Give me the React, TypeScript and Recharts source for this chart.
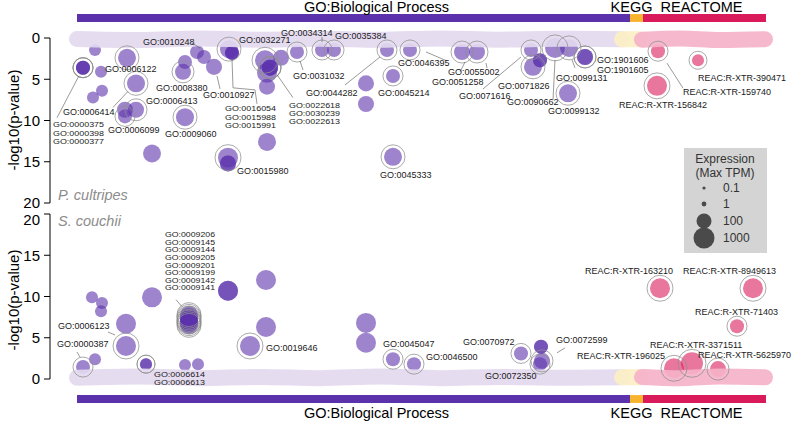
import React from "react";
import { ComposedChart, Scatter, Line, XAxis, YAxis, ReferenceArea } from "recharts";

const SOURCES = ["GO:Biological Process", "KEGG", "REACTOME"];
const SOURCE_START = [7, 560, 573];
const SOURCE_END = [560, 573, 696];
const SOURCE_COLORS = ["#5b32ab", "#f8b42c", "#d91b5b"];
const BAND_COLORS = ["#e3d9ef", "#fcefc6", "#f5b2c8"];
const TITLE_SHIFT = [23, -5, -3];

const Y_TICKS = [0, 5, 10, 15, 20];
const LEGEND_TPM = [0.1, 1, 100, 1000];

// [term, position, -log10(p), max TPM, highlighted]
const cultripesGO = [
  ["", 25, 1.45, 31, 0],
  ["GO:0000375", 13, 3.6, 68, 1],
  ["GO:0000398", 13, 3.6, 68, 1],
  ["GO:0000377", 13, 3.6, 68, 1],
  ["", 31, 4.1, 31, 0],
  ["", 23, 7.2, 31, 0],
  ["", 32, 6.4, 31, 0],
  ["GO:0006122", 57, 2.4, 315, 1],
  ["GO:0006414", 66, 5.5, 315, 1],
  ["", 55, 8.7, 146, 0],
  ["GO:0006413", 66, 8.7, 146, 1],
  ["GO:0006099", 55, 9.5, 68, 1],
  ["", 82, 14.0, 315, 0],
  ["", 115, 2.9, 68, 0],
  ["GO:0008380", 113, 4.1, 146, 1],
  ["GO:0010248", 127, 1.7, 68, 0],
  ["", 134, 2.3, 68, 0],
  ["GO:0010927", 144, 3.5, 146, 0],
  ["GO:0009060", 115, 9.6, 315, 1],
  ["GO:0032271", 159, 1.35, 315, 1],
  ["GO:0016054", 162, 1.8, 68, 0],
  ["GO:0015988", 162, 1.8, 68, 0],
  ["GO:0015991", 162, 1.8, 68, 0],
  ["", 197, 5.9, 146, 0],
  ["", 197, 12.6, 315, 0],
  ["GO:0015980", 158, 14.5, 680, 1],
  ["", 158, 15.2, 146, 0],
  ["", 158, 15.2, 146, 0],
  ["", 195, 2.7, 680, 1],
  ["", 197, 4.2, 680, 0],
  ["GO:0022618", 200, 3.6, 146, 1],
  ["GO:0030239", 200, 3.6, 146, 1],
  ["GO:0022613", 200, 3.6, 146, 1],
  ["", 211, 2.4, 146, 0],
  ["GO:0031032", 227, 1.7, 68, 1],
  ["GO:0034314", 252, 1.45, 68, 1],
  ["GO:0035384", 264, 1.45, 68, 1],
  ["GO:0044282", 317, 1.45, 68, 1],
  ["", 296, 5.5, 146, 0],
  ["", 296, 8.0, 146, 0],
  ["GO:0045214", 323, 4.6, 68, 1],
  ["GO:0045333", 323, 14.4, 315, 1],
  ["GO:0046395", 340, 1.45, 68, 1],
  ["GO:0051258", 392, 1.7, 146, 1],
  ["GO:0055002", 407, 1.7, 146, 1],
  ["GO:0071616", 461, 1.45, 68, 1],
  ["GO:0071826", 463, 3.5, 315, 1],
  ["", 470, 2.7, 68, 0],
  ["", 470, 2.7, 68, 0],
  ["GO:0090662", 485, 1.2, 680, 1],
  ["GO:0099131", 499, 1.2, 315, 1],
  ["GO:1901606", 515, 2.3, 146, 1],
  ["GO:1901605", 515, 2.3, 146, 1],
  ["GO:0099132", 498, 6.7, 315, 1],
];

const cultripesREAC = [
  ["REAC:R-XTR-159740", 588, 1.6, 68, 1],
  ["REAC:R-XTR-390471", 628, 2.7, 31, 1],
  ["REAC:R-XTR-156842", 587, 5.8, 680, 1],
];

const couchiiGO = [
  ["GO:0000387", 13, 1.45, 68, 1],
  ["", 25, 2.4, 31, 0],
  ["", 22, 9.9, 31, 0],
  ["", 32, 9.2, 31, 0],
  ["", 31, 8.2, 31, 0],
  ["", 56, 6.7, 680, 0],
  ["GO:0006123", 56, 4.0, 680, 1],
  ["", 82, 9.9, 680, 0],
  ["GO:0006614", 76, 1.8, 31, 1],
  ["GO:0006613", 76, 1.8, 31, 1],
  ["", 115, 1.7, 31, 0],
  ["", 128, 1.8, 31, 0],
  ["GO:0009206", 119, 7.8, 315, 1],
  ["GO:0009145", 119, 7.6, 315, 1],
  ["GO:0009144", 119, 7.4, 315, 1],
  ["GO:0009205", 119, 7.2, 315, 1],
  ["GO:0009201", 119, 7.0, 315, 1],
  ["GO:0009199", 119, 6.9, 315, 1],
  ["GO:0009142", 119, 6.7, 315, 1],
  ["GO:0009141", 119, 6.5, 315, 1],
  ["", 158, 10.7, 680, 0],
  ["", 158, 10.7, 680, 0],
  ["", 196, 12.0, 680, 0],
  ["", 196, 6.3, 680, 0],
  ["GO:0019646", 180, 4.0, 680, 1],
  ["", 296, 6.8, 680, 0],
  ["", 296, 4.4, 680, 0],
  ["GO:0045047", 323, 2.4, 68, 1],
  ["GO:0046500", 344, 1.8, 68, 1],
  ["GO:0070972", 451, 3.1, 68, 1],
  ["", 471, 3.9, 68, 0],
  ["", 471, 3.9, 68, 0],
  ["GO:0072599", 472, 2.2, 146, 1],
  ["GO:0072350", 470, 1.8, 68, 1],
];

const couchiiREAC = [
  ["REAC:R-XTR-163210", 590, 11.0, 680, 1],
  ["REAC:R-XTR-8949613", 683, 11.0, 680, 1],
  ["REAC:R-XTR-71403", 667, 6.4, 68, 1],
  ["REAC:R-XTR-3371511", 622, 1.9, 1470, 1],
  ["REAC:R-XTR-196025", 604, 1.3, 680, 1],
  ["REAC:R-XTR-5625970", 648, 1.2, 146, 1],
];

// non-significant terms, drawn as the band along zero: [position, -log10(p)]
const cultripesBandGO = [[7, 0.12], [70, 0.25], [130, 0.05], [190, 0.2], [250, 0.08], [310, 0.22], [370, 0.05], [430, 0.2], [490, 0.1], [552, 0.15]];
const cultripesBandKEGG = [[552, 0.15], [570, 0.15]];
const cultripesBandREAC = [[572, 0.2], [610, 0.05], [650, 0.25], [695, 0.15]];
const couchiiBandGO = [[7, 0.15], [70, 0.3], [130, 0.1], [190, 0.25], [250, 0.1], [310, 0.3], [370, 0.1], [430, 0.25], [490, 0.15], [552, 0.2]];
const couchiiBandKEGG = [[552, 0.2], [570, 0.2]];
const couchiiBandREAC = [[572, 0.25], [610, 0.1], [650, 0.3], [695, 0.2]];

// label placement: offsets in px from the labelled term
const cultripesLabels = [
  { term: "GO:0000375", lines: ["GO:0000375", "GO:0000398", "GO:0000377"], dx: -30, dy: 57, gap: 8.3, size: 8, width: 51, leader: [[-4, 8], [-26, 50]] },
  { term: "GO:0006414", dx: -73, dy: 29, leader: [[-8, 8], [-23, 24]] },
  { term: "GO:0006122", dx: -22, dy: 11 },
  { term: "GO:0006413", dx: 10, dy: -9 },
  { term: "GO:0006099", dx: -17, dy: 14 },
  { term: "GO:0009060", dx: -20, dy: 17 },
  { term: "GO:0008380", dx: -27, dy: 16 },
  { term: "GO:0010927", dx: -11, dy: 28, leader: [[3, 9], [6, 22]] },
  { term: "GO:0010248", dx: -54, dy: -10, leader: [[3, -4], [-5, -9]] },
  { term: "GO:0032271", dx: 10, dy: -9 },
  { term: "GO:0016054", lines: ["GO:0016054", "GO:0015988", "GO:0015991"], dx: -7, dy: 56, gap: 8.5, size: 8, width: 51, leader: [[0, 6], [1, 35], [23, 37], [25, 51]] },
  { term: "GO:0022618", lines: ["GO:0022618", "GO:0030239", "GO:0022613"], dx: 19, dy: 38, gap: 7.7, size: 7.6, width: 51, leader: [[7, 7], [23, 30]] },
  { term: "GO:0031032", dx: -4, dy: 24, leader: [[3, 9], [6, 18]] },
  { term: "GO:0034314", dx: -41, dy: -17, leader: [[0, -13], [0, -8]] },
  { term: "GO:0035384", dx: 1, dy: -14 },
  { term: "GO:0044282", dx: -81, dy: 43, leader: [[-42, 35], [-7, 7]] },
  { term: "GO:0045214", dx: -15, dy: 17 },
  { term: "GO:0015980", dx: 9, dy: 13 },
  { term: "GO:0045333", dx: -13, dy: 18 },
  { term: "GO:0046395", dx: -12, dy: 13, leader: [[16, 2], [37, 11]] },
  { term: "GO:0051258", dx: -30, dy: 30, leader: [[-2, 20], [3, 10]] },
  { term: "GO:0055002", dx: -29, dy: 20, leader: [[9, 11], [10, 16]] },
  { term: "GO:0071616", dx: -72, dy: 46, leader: [[-48, 39], [-10, 7]] },
  { term: "GO:0071826", dx: -35, dy: 19 },
  { term: "GO:0090662", dx: -48, dy: 54, leader: [[-2, 52], [0, 12]] },
  { term: "GO:0099131", dx: -13, dy: 30, leader: [[3, 12], [6, 20]] },
  { term: "GO:0099132", dx: -20, dy: 18 },
  { term: "GO:1901606", lines: ["GO:1901606", "GO:1901605"], dx: 12, dy: 3, gap: 10 },
  { term: "REAC:R-XTR-390471", dx: 0, dy: 18 },
  { term: "REAC:R-XTR-159740", dx: 25, dy: 41, leader: [[9, 12], [25, 37]] },
  { term: "REAC:R-XTR-156842", dx: -38, dy: 19 },
];

const couchiiLabels = [
  { term: "GO:0000387", dx: -26, dy: -23, leader: [[-3, -10], [-6, -15]] },
  { term: "GO:0006123", dx: -68, dy: -20, leader: [[-11, -11], [-18, -14]] },
  { term: "GO:0006614", lines: ["GO:0006614", "GO:0006613"], dx: 8, dy: 10, gap: 8, size: 7.8, width: 51 },
  {
    term: "GO:0009206",
    lines: ["GO:0009206", "GO:0009145", "GO:0009144", "GO:0009205", "GO:0009201", "GO:0009199", "GO:0009142", "GO:0009141"],
    dx: -24, dy: -80, gap: 7.6, size: 7.4, width: 50, leader: [[-7, -8], [-13, -15]],
  },
  { term: "GO:0019646", dx: 16, dy: 2 },
  { term: "GO:0045047", dx: -10, dy: -15 },
  { term: "GO:0046500", dx: 12, dy: -7 },
  { term: "GO:0070972", dx: -58, dy: -11 },
  { term: "GO:0072599", dx: 14, dy: -21, leader: [[15, -8], [23, -13]] },
  { term: "GO:0072350", dx: -55, dy: 12 },
  { term: "REAC:R-XTR-163210", dx: -75, dy: -17 },
  { term: "REAC:R-XTR-8949613", dx: -70, dy: -17 },
  { term: "REAC:R-XTR-71403", dx: -42, dy: -14 },
  { term: "REAC:R-XTR-3371511", dx: -42, dy: -18 },
  { term: "REAC:R-XTR-196025", dx: -97, dy: -12 },
  { term: "REAC:R-XTR-5625970", dx: -20, dy: -14 },
];

const FONT = "'Liberation Sans', Arial, Helvetica, sans-serif";

const radius = (tpm: number) => 1.5 + 3 * Math.log10(tpm + 1);

const toRows = (rows: any[], source: number) =>
  rows.map(([term, pos, logp, tpm, hl]) => ({ term, pos, logp, tpm, hl: !!hl, source }));

const toBand = (rows: number[][]) => rows.map(([pos, logp]) => ({ pos, logp }));

function Bubble(props: any) {
  const { cx, cy, payload } = props;
  return (
    <circle cx={cx} cy={cy} r={radius(payload.tpm)} fill={SOURCE_COLORS[payload.source]} fillOpacity={0.6} />
  );
}

function Ring(props: any) {
  const { cx, cy, payload } = props;
  const r = radius(payload.tpm) + 3;
  return <circle cx={cx} cy={cy} r={r} fill="none" stroke="#8f8f8f" strokeWidth={0.9} strokeOpacity={0.85} />;
}

function makeLabelShape(layout: any[]) {
  return (props: any) => {
    const { cx, cy, payload } = props;
    const lab = layout.find((l) => l.term === payload.term);
    if (!lab) return <g />;
    const lines = lab.lines ?? [lab.term];
    const gap = lab.gap ?? 8.5;
    return (
      <g>
        {lab.leader && (
          <polyline
            points={lab.leader.map(([x, y]: number[]) => `${cx + x},${cy + y}`).join(" ")}
            fill="none"
            stroke="#555"
            strokeWidth={0.6}
          />
        )}
        {lines.map((t: string, i: number) => (
          <text
            key={t}
            x={cx + lab.dx}
            y={cy + lab.dy + i * gap}
            dominantBaseline="central"
            fontSize={lab.size ?? 9}
            textLength={lab.width}
            lengthAdjust={lab.width ? "spacingAndGlyphs" : undefined}
            fill="#1a1a1a"
            fontFamily={FONT}
          >
            {t}
          </text>
        ))}
      </g>
    );
  };
}

function Panel({ terms, bands, labels, top }: any) {
  const labelled = terms.filter((t: any) => labels.some((l: any) => l.term === t.term));
  const barY = top ? [-2.9, -1.95] : [-1.95, -2.9];
  return (
    <ComposedChart
      width={799}
      height={211}
      margin={top ? { top: 38, right: 9, bottom: 8, left: 0 } : { top: 3, right: 9, bottom: 43, left: 0 }}
    >
      <XAxis type="number" dataKey="pos" domain={[-20, 720]} hide />
      <YAxis
        type="number"
        dataKey="logp"
        domain={[0, 20]}
        ticks={Y_TICKS}
        reversed={top}
        width={50}
        tickMargin={4}
        tick={{ fontSize: 15, fill: "#000" }}
        axisLine={{ stroke: "#000" }}
        tickLine={{ stroke: "#000" }}
      />
      {SOURCES.map((s, i) => (
        <ReferenceArea
          key={s}
          x1={SOURCE_START[i]}
          x2={SOURCE_END[i]}
          y1={barY[0]}
          y2={barY[1]}
          fill={SOURCE_COLORS[i]}
          fillOpacity={1}
          stroke="none"
          ifOverflow="visible"
          label={{ value: s, position: top ? "top" : "bottom", offset: top ? 2 : 5, fontSize: 14.5, fill: "#000", dx: TITLE_SHIFT[i] }}
        />
      ))}
      <Scatter data={terms} shape={Bubble} isAnimationActive={false} zIndex={500} />
      {bands.map((b: any, i: number) => (
        <Line
          key={i}
          data={b}
          dataKey="logp"
          type="monotone"
          stroke={BAND_COLORS[i]}
          strokeWidth={16}
          strokeLinecap="round"
          strokeOpacity={0.92}
          dot={false}
          activeDot={false}
          isAnimationActive={false}
          zIndex={650}
        />
      ))}
      <Scatter data={terms.filter((t: any) => t.hl)} shape={Ring} isAnimationActive={false} zIndex={700} />
      <Scatter data={labelled} shape={makeLabelShape(labels)} isAnimationActive={false} zIndex={750} />
    </ComposedChart>
  );
}

export default function App() {
  const topTerms = [...toRows(cultripesGO, 0), ...toRows(cultripesREAC, 2)];
  const bottomTerms = [...toRows(couchiiGO, 0), ...toRows(couchiiREAC, 2)];
  const topBands = [toBand(cultripesBandGO), toBand(cultripesBandKEGG), toBand(cultripesBandREAC)];
  const bottomBands = [toBand(couchiiBandGO), toBand(couchiiBandKEGG), toBand(couchiiBandREAC)];
  const legendY = [188, 204, 221, 238];

  return (
    <div
      style={{ position: "absolute", left: 0, top: 0, width: 799, height: 422, background: "#fff", overflow: "hidden", fontFamily: FONT }}
    >
      <div style={{ position: "absolute", left: 0, top: 0 }}>
        <Panel terms={topTerms} bands={topBands} labels={cultripesLabels} top />
      </div>
      <div style={{ position: "absolute", left: 0, top: 211 }}>
        <Panel terms={bottomTerms} bands={bottomBands} labels={couchiiLabels} top={false} />
      </div>
      <svg width={799} height={422} style={{ position: "absolute", left: 0, top: 0, pointerEvents: "none" }} fontFamily={FONT}>
        <text x={13} y={120} transform="rotate(-90 13 120)" textAnchor="middle" dominantBaseline="central" fontSize={15}>
          -log10(p-value)
        </text>
        <text x={13} y={300} transform="rotate(-90 13 300)" textAnchor="middle" dominantBaseline="central" fontSize={15}>
          -log10(p-value)
        </text>
        <text x={58} y={200} fontSize={14.5} fontStyle="italic" fill="#8c8c8c">P. cultripes</text>
        <text x={58} y={226} fontSize={14.5} fontStyle="italic" fill="#8c8c8c">S. couchii</text>
        <rect x={684} y={148} width={83} height={105} fill="#d4d4d4" />
        <text x={725} y={159} textAnchor="middle" dominantBaseline="central" fontSize={12} fill="#333">Expression</text>
        <text x={725} y={173} textAnchor="middle" dominantBaseline="central" fontSize={12} fill="#333">(Max TPM)</text>
        {LEGEND_TPM.map((t, i) => (
          <g key={t}>
            <circle cx={704} cy={legendY[i]} r={radius(t)} fill="#4a4a4a" />
            <text x={723} y={legendY[i]} dominantBaseline="central" fontSize={12} fill="#333">{t}</text>
          </g>
        ))}
      </svg>
    </div>
  );
}
